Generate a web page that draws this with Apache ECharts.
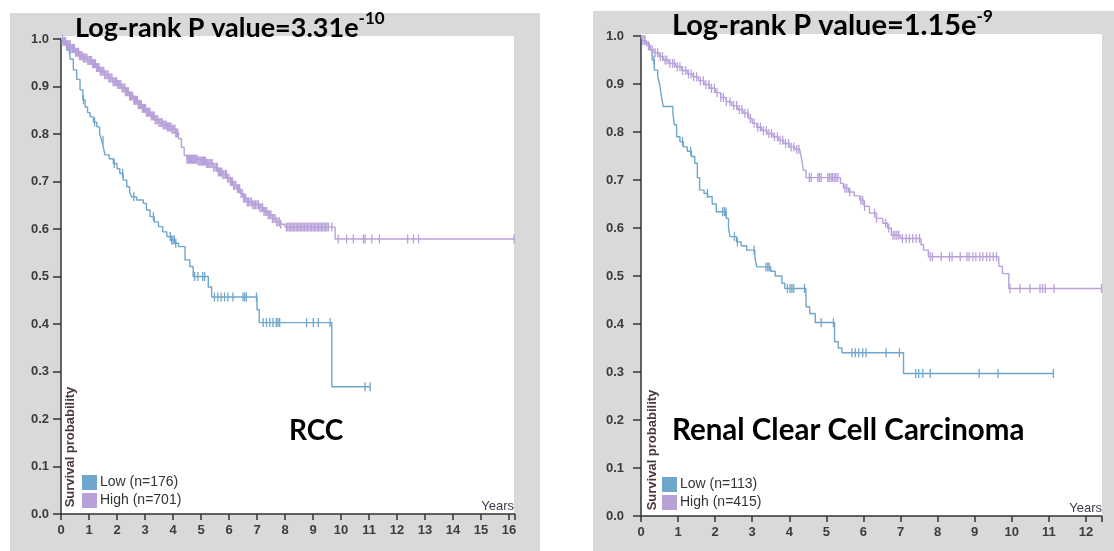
<!DOCTYPE html>
<html><head><meta charset="utf-8">
<script src="https://cdn.jsdelivr.net/npm/echarts@6/dist/echarts.min.js"></script>
<style>html,body{margin:0;padding:0;background:#fff}#c{width:1114px;height:551px}</style>
</head><body><div id="c"></div>
<script>
// ---- text ----
const panelTitles = ['Log-rank P value=3.31e', 'Log-rank P value=1.15e'];
const panelExponents = ['-10', '-9'];
const panelLabels = ['RCC', 'Renal Clear Cell Carcinoma'];
const legendLow = ['Low (n=176)', 'Low (n=113)'];
const legendHigh = ['High (n=701)', 'High (n=415)'];
const yAxisName = 'Survival probability';
const xAxisName = 'Years';

// ---- RCC (left) Kaplan-Meier steps [years, survival] ----
const rccLow = [[0,1],[0.1,0.99],[0.2,0.977],[0.32,0.958],[0.44,0.935],[0.56,0.915],[0.68,0.893],[0.78,0.872],[0.86,0.857],[0.95,0.845],[1.04,0.836],[1.16,0.825],[1.28,0.815],[1.38,0.8],[1.45,0.787],[1.52,0.77],[1.57,0.756],[1.72,0.748],[1.87,0.738],[2.0,0.727],[2.1,0.717],[2.22,0.703],[2.35,0.689],[2.45,0.678],[2.52,0.668],[2.7,0.661],[2.94,0.654],[3.05,0.64],[3.18,0.626],[3.33,0.615],[3.48,0.605],[3.63,0.594],[3.78,0.584],[3.92,0.577],[4.07,0.57],[4.2,0.563],[4.43,0.535],[4.6,0.521],[4.72,0.5],[5.26,0.478],[5.38,0.457],[7.0,0.43],[7.08,0.403],[9.67,0.268],[11.04,0.268]];
const rccHigh = [[0,1],[0.08,0.995],[0.2,0.988],[0.35,0.98],[0.5,0.972],[0.65,0.965],[0.8,0.96],[0.95,0.955],[1.1,0.948],[1.25,0.94],[1.4,0.932],[1.55,0.925],[1.7,0.918],[1.85,0.91],[2.0,0.904],[2.15,0.897],[2.3,0.889],[2.45,0.88],[2.6,0.871],[2.75,0.862],[2.9,0.854],[3.05,0.846],[3.2,0.838],[3.35,0.83],[3.5,0.824],[3.65,0.819],[3.8,0.815],[3.95,0.81],[4.1,0.802],[4.2,0.79],[4.3,0.772],[4.4,0.755],[4.5,0.747],[4.9,0.743],[5.2,0.738],[5.45,0.73],[5.6,0.72],[5.75,0.715],[5.92,0.707],[6.05,0.7],[6.15,0.692],[6.28,0.685],[6.4,0.675],[6.52,0.665],[6.65,0.657],[6.85,0.651],[7.1,0.645],[7.25,0.637],[7.4,0.63],[7.55,0.622],[7.7,0.615],[7.85,0.61],[8.0,0.604],[9.79,0.579],[16.2,0.579]];
const rccLowCensor = [0.3,0.8,1.2,1.5,1.9,2.2,2.6,3.3,3.9,3.95,4.0,4.05,4.1,4.77,4.89,5.06,5.13,5.48,5.6,5.72,5.84,5.96,6.14,6.5,6.56,6.62,6.98,7.22,7.34,7.46,7.57,7.69,7.75,7.81,8.77,9.01,9.19,9.61,10.86,11.04];
const rccHighCensor = [0.05,0.08,0.12,0.16,0.2,0.23,0.26,0.29,0.33,0.36,0.4,0.42,0.45,0.48,0.52,0.56,0.6,0.63,0.66,0.69,0.72,0.76,0.8,0.83,0.85,0.89,0.93,0.96,1.0,1.03,1.06,1.09,1.13,1.16,1.2,1.23,1.27,1.3,1.33,1.36,1.4,1.43,1.46,1.5,1.53,1.56,1.6,1.64,1.68,1.71,1.75,1.78,1.82,1.86,1.9,1.93,1.96,1.99,2.03,2.06,2.1,2.14,2.18,2.21,2.25,2.28,2.3,2.34,2.38,2.41,2.45,2.48,2.52,2.56,2.6,2.63,2.66,2.69,2.73,2.76,2.8,2.84,2.87,2.91,2.95,2.98,3.02,3.05,3.08,3.12,3.15,3.18,3.22,3.26,3.3,3.33,3.36,3.39,3.43,3.46,3.5,3.54,3.58,3.61,3.65,3.68,3.72,3.76,3.8,3.83,3.86,3.89,3.93,3.96,4.0,4.03,4.07,4.1,4.13,4.17,4.5,4.53,4.56,4.59,4.62,4.66,4.7,4.73,4.76,4.8,4.83,4.86,4.9,4.93,4.97,5.01,5.05,5.08,5.12,5.16,5.2,5.24,5.28,5.32,5.36,5.4,5.45,5.5,5.55,5.58,5.62,5.66,5.7,5.74,5.78,5.82,5.87,5.91,5.95,6.0,6.05,6.08,6.12,6.16,6.2,6.25,6.3,6.34,6.38,6.43,6.48,6.52,6.56,6.6,6.65,6.7,6.75,6.8,6.85,6.9,6.95,7.0,7.05,7.1,7.15,7.2,7.25,7.3,7.35,7.4,7.45,7.5,7.55,7.6,7.65,7.7,7.75,7.8,7.85,8.05,8.1,8.15,8.2,8.25,8.3,8.35,8.4,8.45,8.5,8.55,8.6,8.65,8.7,8.75,8.8,8.85,8.9,8.95,9.0,9.05,9.1,9.15,9.2,9.25,9.3,9.35,9.4,9.45,9.5,9.55,9.67,9.9,10.2,10.44,10.8,10.86,11.1,11.37,12.38,12.59,12.77,16.18];

// ---- Renal Clear Cell Carcinoma (right) ----
const ccLow = [[0,1],[0.1,0.985],[0.22,0.971],[0.3,0.95],[0.36,0.929],[0.45,0.915],[0.5,0.901],[0.55,0.875],[0.6,0.853],[0.86,0.839],[0.9,0.815],[0.96,0.79],[1.05,0.78],[1.14,0.769],[1.25,0.76],[1.36,0.749],[1.45,0.735],[1.52,0.705],[1.58,0.679],[1.7,0.672],[1.8,0.665],[1.92,0.65],[2.03,0.634],[2.3,0.62],[2.36,0.6],[2.4,0.582],[2.58,0.571],[2.7,0.563],[2.85,0.554],[3.07,0.54],[3.12,0.519],[3.5,0.51],[3.62,0.5],[3.8,0.485],[3.88,0.474],[4.45,0.436],[4.55,0.422],[4.7,0.403],[5.22,0.363],[5.32,0.35],[5.42,0.34],[7.08,0.297],[11.14,0.297]];
const ccHigh = [[0,1],[0.05,0.99],[0.15,0.98],[0.25,0.972],[0.35,0.965],[0.49,0.957],[0.6,0.95],[0.75,0.943],[0.94,0.936],[1.1,0.928],[1.25,0.921],[1.4,0.915],[1.55,0.907],[1.7,0.899],[1.85,0.891],[2.0,0.882],[2.15,0.872],[2.3,0.863],[2.45,0.855],[2.6,0.847],[2.75,0.839],[2.9,0.828],[3.0,0.818],[3.12,0.81],[3.25,0.803],[3.4,0.797],[3.56,0.79],[3.7,0.783],[3.85,0.776],[4.0,0.769],[4.15,0.764],[4.28,0.76],[4.33,0.745],[4.38,0.72],[4.45,0.705],[5.38,0.693],[5.46,0.683],[5.6,0.675],[5.75,0.667],[5.9,0.658],[6.02,0.645],[6.16,0.631],[6.35,0.62],[6.52,0.61],[6.65,0.6],[6.75,0.585],[7.0,0.578],[7.55,0.565],[7.62,0.554],[7.75,0.54],[9.65,0.52],[9.75,0.505],[9.92,0.474],[12.42,0.474]];
const ccLowCensor = [0.35,1.12,1.34,1.79,2.2,2.25,2.29,2.52,2.6,3.05,3.37,3.42,3.46,3.95,4.02,4.07,4.12,4.41,4.86,5.19,5.69,5.78,5.87,5.98,6.07,6.61,6.97,7.41,7.49,7.6,7.8,9.12,9.63,11.12];
const ccHighCensor = [0.05,0.1,0.2,0.3,0.38,0.45,0.52,0.58,0.65,0.7,0.78,0.85,0.9,0.98,1.05,1.12,1.2,1.28,1.35,1.42,1.5,1.6,1.68,1.75,1.83,1.9,1.98,2.05,2.15,2.22,2.3,2.4,2.5,2.58,2.65,2.72,2.8,2.88,2.95,3.05,3.15,3.22,3.3,3.38,3.45,3.52,3.6,3.68,3.75,3.82,3.9,3.98,4.05,4.12,4.2,4.26,4.54,4.59,4.77,4.81,4.86,5.04,5.08,5.13,5.17,5.22,5.26,5.31,5.5,5.55,5.63,5.93,5.98,6.03,6.3,6.35,6.6,6.68,6.8,6.85,6.9,6.95,7.05,7.15,7.24,7.33,7.42,7.51,7.8,7.86,8.1,8.32,8.39,8.61,8.79,8.85,8.95,9.03,9.14,9.22,9.32,9.41,9.5,9.59,9.95,10.22,10.49,10.76,10.83,10.9,11.14,12.42];

const BLUE = '#6fa6cb';
const PURPLE = '#b8a1d9';
const AXIS = '#333333';
const LABEL = '#3c3c3c';

function stepAt(curve, t) {
  let s = curve[0][1];
  for (const [x, y] of curve) { if (x <= t) s = y; else break; }
  return s;
}
function censorPts(curve, times) { return times.map(t => [t, stepAt(curve, t)]); }

const grids = [
  {left: 61, top: 39, width: 453.6, height: 475},
  {left: 641, top: 36, width: 460.5, height: 480}
];
const xMax = [16.2, 12.42];
const yLabelMargin = [12, 17];

function xAxis(i) {
  return {
    type: 'value', gridIndex: i, min: 0, max: xMax[i], interval: 1,
    axisLine: {show: true, onZero: false, lineStyle: {color: AXIS, width: 1.5}},
    axisTick: {show: true, length: 6, lineStyle: {color: AXIS, width: 1.5}},
    axisLabel: {margin: 10, fontSize: 13, fontWeight: 'bold', color: LABEL, fontFamily: 'Liberation Sans',
      formatter: v => Math.abs(v - Math.round(v)) < 1e-6 ? String(Math.round(v)) : ''},
    splitLine: {show: false}
  };
}
function yAxis(i) {
  return {
    type: 'value', gridIndex: i, min: 0, max: 1, interval: 0.1,
    axisLine: {show: true, onZero: false, lineStyle: {color: AXIS, width: 1.5}},
    axisTick: {show: true, length: 8, lineStyle: {color: AXIS, width: 1.5}},
    axisLabel: {margin: yLabelMargin[i], fontSize: 13, fontWeight: 'bold', color: LABEL, fontFamily: 'Liberation Sans',
      formatter: v => v.toFixed(1)},
    splitLine: {show: false}
  };
}
function lineSeries(i, data, color) {
  return {type: 'line', xAxisIndex: i, yAxisIndex: i, data, step: 'end', showSymbol: false,
    lineStyle: {color, width: 1.4}, itemStyle: {color}, z: 3, silent: true};
}
function censorSeries(i, data, color) {
  return {type: 'scatter', xAxisIndex: i, yAxisIndex: i, data, symbol: 'rect', symbolSize: [1.3, 9],
    itemStyle: {color, opacity: 1}, z: 4, silent: true};
}

const series = [
  lineSeries(0, rccLow, BLUE), lineSeries(0, rccHigh, PURPLE),
  censorSeries(0, censorPts(rccLow, rccLowCensor), BLUE), censorSeries(0, censorPts(rccHigh, rccHighCensor), PURPLE),
  lineSeries(1, ccLow, BLUE), lineSeries(1, ccHigh, PURPLE),
  censorSeries(1, censorPts(ccLow, ccLowCensor), BLUE), censorSeries(1, censorPts(ccHigh, ccHighCensor), PURPLE)
];

const panels = [
  {bg: [10, 13, 530, 538], plot: [61, 36, 453, 478], title: [75, 10], tsize: 27, label: [289, 431], lsize: 28, sw: [82, 475, 493], ylab: [70, 447], years: [514, 506]},
  {bg: [593, 11, 521, 540], plot: [641, 34, 461, 482], title: [672, 8], tsize: 29, label: [672, 430], lsize: 29.5, sw: [662, 477, 495], ylab: [652, 450], years: [1102, 508]}
];
const graphic = [];
panels.forEach((p, i) => {
  graphic.push({type: 'rect', z: -20, shape: {x: p.bg[0], y: p.bg[1], width: p.bg[2], height: p.bg[3]}, style: {fill: '#d9d9d9'}});
  graphic.push({type: 'rect', z: -19, shape: {x: p.plot[0], y: p.plot[1], width: p.plot[2], height: p.plot[3]}, style: {fill: '#ffffff'}});
  graphic.push({type: 'text', z: 50, x: p.title[0], y: p.title[1], style: {
    text: '{m|' + panelTitles[i] + '}{s|' + panelExponents[i] + '}',
    rich: {
      m: {fontSize: p.tsize, fontWeight: 'bold', fontFamily: 'Lato', fill: '#000', lineHeight: 32, verticalAlign: 'bottom'},
      s: {fontSize: 17, fontWeight: 'bold', fontFamily: 'Lato', fill: '#000', lineHeight: 14, verticalAlign: 'top'}
    }}});
  graphic.push({type: 'text', z: 50, x: p.label[0], y: p.label[1], style: {text: panelLabels[i], fontSize: p.lsize, fontWeight: 'bold', fontFamily: 'Lato', fill: '#000', verticalAlign: 'middle'}});
  graphic.push({type: 'rect', z: 50, shape: {x: p.sw[0], y: p.sw[1], width: 15, height: 15}, style: {fill: BLUE}});
  graphic.push({type: 'rect', z: 50, shape: {x: p.sw[0], y: p.sw[2], width: 15, height: 15}, style: {fill: PURPLE}});
  graphic.push({type: 'text', z: 50, x: p.sw[0] + 18, y: p.sw[1] + 7.5, style: {text: legendLow[i], fontSize: 14, fontFamily: 'Liberation Sans', fill: '#333', verticalAlign: 'middle'}});
  graphic.push({type: 'text', z: 50, x: p.sw[0] + 18, y: p.sw[2] + 7.5, style: {text: legendHigh[i], fontSize: 14, fontFamily: 'Liberation Sans', fill: '#333', verticalAlign: 'middle'}});
  graphic.push({type: 'text', z: 50, x: p.ylab[0], y: p.ylab[1], rotation: Math.PI / 2, style: {text: yAxisName, fontSize: 13, fontWeight: 'bold', fontFamily: 'Liberation Sans', fill: '#4a3a3a', align: 'center', verticalAlign: 'middle'}});
  graphic.push({type: 'text', z: 50, x: p.years[0], y: p.years[1], style: {text: xAxisName, fontSize: 13, fontFamily: 'Liberation Sans', fill: '#3c3c4c', align: 'right', verticalAlign: 'middle'}});
});

const chart = echarts.init(document.getElementById('c'), null, {renderer: 'canvas'});
chart.setOption({
  animation: false,
  backgroundColor: '#ffffff',
  grid: grids,
  xAxis: [xAxis(0), xAxis(1)],
  yAxis: [yAxis(0), yAxis(1)],
  series,
  graphic
});
</script></body></html>
